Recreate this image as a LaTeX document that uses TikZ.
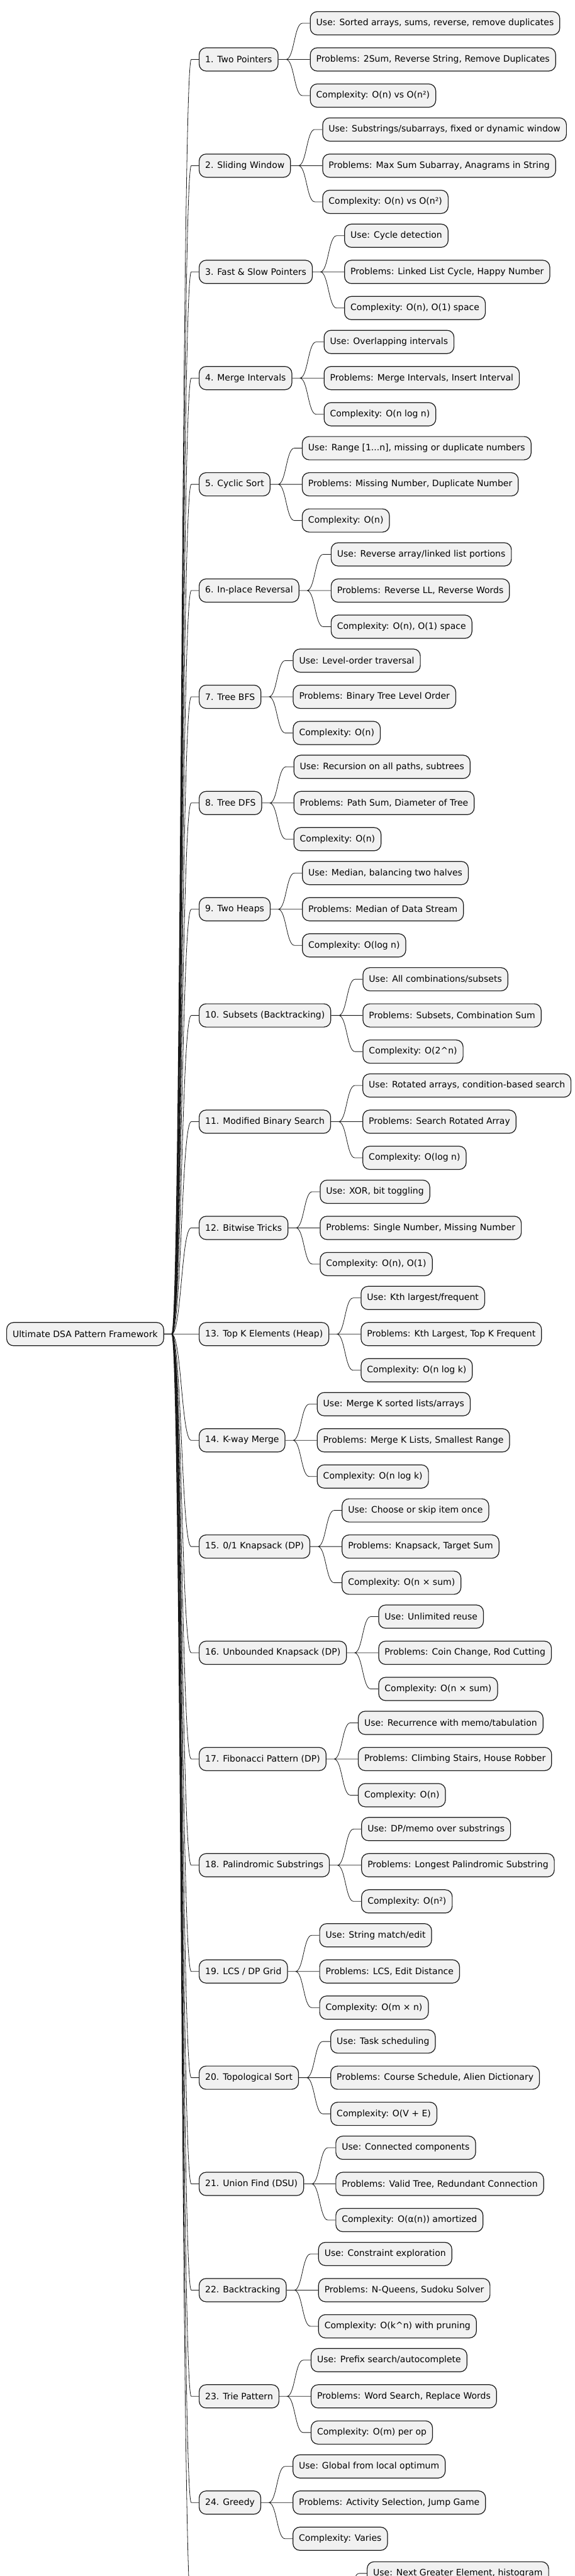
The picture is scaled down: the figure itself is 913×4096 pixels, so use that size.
\documentclass[tikz,border=0pt]{standalone}
\usepackage{fontspec}
\setmainfont{DejaVu Sans}
\usetikzlibrary{positioning, calc}
\definecolor{nodefill}{HTML}{F1F1F1}
\definecolor{nodeline}{HTML}{181818}

\begin{document}
\begin{tikzpicture}[x=1pt, y=-1pt, node distance=19.3pt,
    box/.style={draw=nodeline, fill=nodefill, line width=1.2pt, rounded corners=11pt, minimum height=37pt, inner xsep=9.5pt, inner ysep=0pt, font=\fontsize{14pt}{16pt}\selectfont},
    topic/.style={box, anchor=west},
    branch/.style={draw=nodeline, line width=0.8pt, to path={let \p1=(\tikztostart), \p2=(\tikztotarget) in -- ({\x1+12pt},\y1) .. controls ({(\x1+\x2)/2},\y1) and ({(\x1+\x2)/2},\y2) .. ({\x2-12pt},\y2) -- (\p2)}}]
    \useasboundingbox (0,0) rectangle (913,4096);
    \clip (0,0) rectangle (913,4096);

    % Root
    \node[topic] (root) at (10,2121.3) {Ultimate DSA Pattern Framework};

    % Patterns and their leaves
    \node[topic] (pat1) at (316,94.5) {1. Two Pointers};
    \node[box, right=50pt of pat1] (prob1) {Problems: 2Sum, Reverse String, Remove Duplicates};
    \node[box, above=of prob1.north west, anchor=south west] (use1) {Use: Sorted arrays, sums, reverse, remove duplicates};
    \node[box, below=of prob1.south west, anchor=north west] (cplx1) {Complexity: O(n) vs O(n²)};

    \node[topic] (pat2) at (316,263.4) {2. Sliding Window};
    \node[box, right=50pt of pat2] (prob2) {Problems: Max Sum Subarray, Anagrams in String};
    \node[box, above=of prob2.north west, anchor=south west] (use2) {Use: Substrings/subarrays, fixed or dynamic window};
    \node[box, below=of prob2.south west, anchor=north west] (cplx2) {Complexity: O(n) vs O(n²)};

    \node[topic] (pat3) at (316,432.3) {3. Fast \& Slow Pointers};
    \node[box, right=50pt of pat3] (prob3) {Problems: Linked List Cycle, Happy Number};
    \node[box, above=of prob3.north west, anchor=south west] (use3) {Use: Cycle detection};
    \node[box, below=of prob3.south west, anchor=north west] (cplx3) {Complexity: O(n), O(1) space};

    \node[topic] (pat4) at (316,601.2) {4. Merge Intervals};
    \node[box, right=50pt of pat4] (prob4) {Problems: Merge Intervals, Insert Interval};
    \node[box, above=of prob4.north west, anchor=south west] (use4) {Use: Overlapping intervals};
    \node[box, below=of prob4.south west, anchor=north west] (cplx4) {Complexity: O(n log n)};

    \node[topic] (pat5) at (316,770.1) {5. Cyclic Sort};
    \node[box, right=50pt of pat5] (prob5) {Problems: Missing Number, Duplicate Number};
    \node[box, above=of prob5.north west, anchor=south west] (use5) {Use: Range [1...n], missing or duplicate numbers};
    \node[box, below=of prob5.south west, anchor=north west] (cplx5) {Complexity: O(n)};

    \node[topic] (pat6) at (316,939.0) {6. In-place Reversal};
    \node[box, right=50pt of pat6] (prob6) {Problems: Reverse LL, Reverse Words};
    \node[box, above=of prob6.north west, anchor=south west] (use6) {Use: Reverse array/linked list portions};
    \node[box, below=of prob6.south west, anchor=north west] (cplx6) {Complexity: O(n), O(1) space};

    \node[topic] (pat7) at (316,1107.9) {7. Tree BFS};
    \node[box, right=50pt of pat7] (prob7) {Problems: Binary Tree Level Order};
    \node[box, above=of prob7.north west, anchor=south west] (use7) {Use: Level-order traversal};
    \node[box, below=of prob7.south west, anchor=north west] (cplx7) {Complexity: O(n)};

    \node[topic] (pat8) at (316,1276.8) {8. Tree DFS};
    \node[box, right=50pt of pat8] (prob8) {Problems: Path Sum, Diameter of Tree};
    \node[box, above=of prob8.north west, anchor=south west] (use8) {Use: Recursion on all paths, subtrees};
    \node[box, below=of prob8.south west, anchor=north west] (cplx8) {Complexity: O(n)};

    \node[topic] (pat9) at (316,1445.7) {9. Two Heaps};
    \node[box, right=50pt of pat9] (prob9) {Problems: Median of Data Stream};
    \node[box, above=of prob9.north west, anchor=south west] (use9) {Use: Median, balancing two halves};
    \node[box, below=of prob9.south west, anchor=north west] (cplx9) {Complexity: O(log n)};

    \node[topic] (pat10) at (316,1614.6) {10. Subsets (Backtracking)};
    \node[box, right=50pt of pat10] (prob10) {Problems: Subsets, Combination Sum};
    \node[box, above=of prob10.north west, anchor=south west] (use10) {Use: All combinations/subsets};
    \node[box, below=of prob10.south west, anchor=north west] (cplx10) {Complexity: O(2\textasciicircum n)};

    \node[topic] (pat11) at (316,1783.5) {11. Modified Binary Search};
    \node[box, right=50pt of pat11] (prob11) {Problems: Search Rotated Array};
    \node[box, above=of prob11.north west, anchor=south west] (use11) {Use: Rotated arrays, condition-based search};
    \node[box, below=of prob11.south west, anchor=north west] (cplx11) {Complexity: O(log n)};

    \node[topic] (pat12) at (316,1952.4) {12. Bitwise Tricks};
    \node[box, right=50pt of pat12] (prob12) {Problems: Single Number, Missing Number};
    \node[box, above=of prob12.north west, anchor=south west] (use12) {Use: XOR, bit toggling};
    \node[box, below=of prob12.south west, anchor=north west] (cplx12) {Complexity: O(n), O(1)};

    \node[topic] (pat13) at (316,2121.3) {13. Top K Elements (Heap)};
    \node[box, right=50pt of pat13] (prob13) {Problems: Kth Largest, Top K Frequent};
    \node[box, above=of prob13.north west, anchor=south west] (use13) {Use: Kth largest/frequent};
    \node[box, below=of prob13.south west, anchor=north west] (cplx13) {Complexity: O(n log k)};

    \node[topic] (pat14) at (316,2290.2) {14. K-way Merge};
    \node[box, right=50pt of pat14] (prob14) {Problems: Merge K Lists, Smallest Range};
    \node[box, above=of prob14.north west, anchor=south west] (use14) {Use: Merge K sorted lists/arrays};
    \node[box, below=of prob14.south west, anchor=north west] (cplx14) {Complexity: O(n log k)};

    \node[topic] (pat15) at (316,2459.1) {15. 0/1 Knapsack (DP)};
    \node[box, right=50pt of pat15] (prob15) {Problems: Knapsack, Target Sum};
    \node[box, above=of prob15.north west, anchor=south west] (use15) {Use: Choose or skip item once};
    \node[box, below=of prob15.south west, anchor=north west] (cplx15) {Complexity: O(n × sum)};

    \node[topic] (pat16) at (316,2628.0) {16. Unbounded Knapsack (DP)};
    \node[box, right=50pt of pat16] (prob16) {Problems: Coin Change, Rod Cutting};
    \node[box, above=of prob16.north west, anchor=south west] (use16) {Use: Unlimited reuse};
    \node[box, below=of prob16.south west, anchor=north west] (cplx16) {Complexity: O(n × sum)};

    \node[topic] (pat17) at (316,2796.9) {17. Fibonacci Pattern (DP)};
    \node[box, right=50pt of pat17] (prob17) {Problems: Climbing Stairs, House Robber};
    \node[box, above=of prob17.north west, anchor=south west] (use17) {Use: Recurrence with memo/tabulation};
    \node[box, below=of prob17.south west, anchor=north west] (cplx17) {Complexity: O(n)};

    \node[topic] (pat18) at (316,2965.8) {18. Palindromic Substrings};
    \node[box, right=50pt of pat18] (prob18) {Problems: Longest Palindromic Substring};
    \node[box, above=of prob18.north west, anchor=south west] (use18) {Use: DP/memo over substrings};
    \node[box, below=of prob18.south west, anchor=north west] (cplx18) {Complexity: O(n²)};

    \node[topic] (pat19) at (316,3134.7) {19. LCS / DP Grid};
    \node[box, right=50pt of pat19] (prob19) {Problems: LCS, Edit Distance};
    \node[box, above=of prob19.north west, anchor=south west] (use19) {Use: String match/edit};
    \node[box, below=of prob19.south west, anchor=north west] (cplx19) {Complexity: O(m × n)};

    \node[topic] (pat20) at (316,3303.6) {20. Topological Sort};
    \node[box, right=50pt of pat20] (prob20) {Problems: Course Schedule, Alien Dictionary};
    \node[box, above=of prob20.north west, anchor=south west] (use20) {Use: Task scheduling};
    \node[box, below=of prob20.south west, anchor=north west] (cplx20) {Complexity: O(V + E)};

    \node[topic] (pat21) at (316,3472.5) {21. Union Find (DSU)};
    \node[box, right=50pt of pat21] (prob21) {Problems: Valid Tree, Redundant Connection};
    \node[box, above=of prob21.north west, anchor=south west] (use21) {Use: Connected components};
    \node[box, below=of prob21.south west, anchor=north west] (cplx21) {Complexity: O(α(n)) amortized};

    \node[topic] (pat22) at (316,3641.4) {22. Backtracking};
    \node[box, right=50pt of pat22] (prob22) {Problems: N-Queens, Sudoku Solver};
    \node[box, above=of prob22.north west, anchor=south west] (use22) {Use: Constraint exploration};
    \node[box, below=of prob22.south west, anchor=north west] (cplx22) {Complexity: O(k\textasciicircum n) with pruning};

    \node[topic] (pat23) at (316,3810.3) {23. Trie Pattern};
    \node[box, right=50pt of pat23] (prob23) {Problems: Word Search, Replace Words};
    \node[box, above=of prob23.north west, anchor=south west] (use23) {Use: Prefix search/autocomplete};
    \node[box, below=of prob23.south west, anchor=north west] (cplx23) {Complexity: O(m) per op};

    \node[topic] (pat24) at (316,3979.2) {24. Greedy};
    \node[box, right=50pt of pat24] (prob24) {Problems: Activity Selection, Jump Game};
    \node[box, above=of prob24.north west, anchor=south west] (use24) {Use: Global from local optimum};
    \node[box, below=of prob24.south west, anchor=north west] (cplx24) {Complexity: Varies};

    % cut off by the bottom edge
    \coordinate (pat25w) at (316,4148.1);
    \coordinate (pat25e) at (533,4148.1);
    \node[box, anchor=west] (use25) at (583,4091.8) {Use: Next Greater Element, histogram};

    % Connections
    \draw[branch] (root.east) to (pat1.west) (root.east) to (pat2.west) (root.east) to (pat3.west) (root.east) to (pat4.west) (root.east) to (pat5.west);
    \draw[branch] (root.east) to (pat6.west) (root.east) to (pat7.west) (root.east) to (pat8.west) (root.east) to (pat9.west) (root.east) to (pat10.west);
    \draw[branch] (root.east) to (pat11.west) (root.east) to (pat12.west) (root.east) to (pat13.west) (root.east) to (pat14.west) (root.east) to (pat15.west);
    \draw[branch] (root.east) to (pat16.west) (root.east) to (pat17.west) (root.east) to (pat18.west) (root.east) to (pat19.west) (root.east) to (pat20.west);
    \draw[branch] (root.east) to (pat21.west) (root.east) to (pat22.west) (root.east) to (pat23.west) (root.east) to (pat24.west) (root.east) to (pat25w);

    \draw[branch] (pat1.east) to (use1.west) (pat1.east) to (prob1.west) (pat1.east) to (cplx1.west);
    \draw[branch] (pat2.east) to (use2.west) (pat2.east) to (prob2.west) (pat2.east) to (cplx2.west);
    \draw[branch] (pat3.east) to (use3.west) (pat3.east) to (prob3.west) (pat3.east) to (cplx3.west);
    \draw[branch] (pat4.east) to (use4.west) (pat4.east) to (prob4.west) (pat4.east) to (cplx4.west);
    \draw[branch] (pat5.east) to (use5.west) (pat5.east) to (prob5.west) (pat5.east) to (cplx5.west);
    \draw[branch] (pat6.east) to (use6.west) (pat6.east) to (prob6.west) (pat6.east) to (cplx6.west);
    \draw[branch] (pat7.east) to (use7.west) (pat7.east) to (prob7.west) (pat7.east) to (cplx7.west);
    \draw[branch] (pat8.east) to (use8.west) (pat8.east) to (prob8.west) (pat8.east) to (cplx8.west);
    \draw[branch] (pat9.east) to (use9.west) (pat9.east) to (prob9.west) (pat9.east) to (cplx9.west);
    \draw[branch] (pat10.east) to (use10.west) (pat10.east) to (prob10.west) (pat10.east) to (cplx10.west);
    \draw[branch] (pat11.east) to (use11.west) (pat11.east) to (prob11.west) (pat11.east) to (cplx11.west);
    \draw[branch] (pat12.east) to (use12.west) (pat12.east) to (prob12.west) (pat12.east) to (cplx12.west);
    \draw[branch] (pat13.east) to (use13.west) (pat13.east) to (prob13.west) (pat13.east) to (cplx13.west);
    \draw[branch] (pat14.east) to (use14.west) (pat14.east) to (prob14.west) (pat14.east) to (cplx14.west);
    \draw[branch] (pat15.east) to (use15.west) (pat15.east) to (prob15.west) (pat15.east) to (cplx15.west);
    \draw[branch] (pat16.east) to (use16.west) (pat16.east) to (prob16.west) (pat16.east) to (cplx16.west);
    \draw[branch] (pat17.east) to (use17.west) (pat17.east) to (prob17.west) (pat17.east) to (cplx17.west);
    \draw[branch] (pat18.east) to (use18.west) (pat18.east) to (prob18.west) (pat18.east) to (cplx18.west);
    \draw[branch] (pat19.east) to (use19.west) (pat19.east) to (prob19.west) (pat19.east) to (cplx19.west);
    \draw[branch] (pat20.east) to (use20.west) (pat20.east) to (prob20.west) (pat20.east) to (cplx20.west);
    \draw[branch] (pat21.east) to (use21.west) (pat21.east) to (prob21.west) (pat21.east) to (cplx21.west);
    \draw[branch] (pat22.east) to (use22.west) (pat22.east) to (prob22.west) (pat22.east) to (cplx22.west);
    \draw[branch] (pat23.east) to (use23.west) (pat23.east) to (prob23.west) (pat23.east) to (cplx23.west);
    \draw[branch] (pat24.east) to (use24.west) (pat24.east) to (prob24.west) (pat24.east) to (cplx24.west);
    \draw[branch] (pat25e) to (use25.west);
\end{tikzpicture}
\end{document}
